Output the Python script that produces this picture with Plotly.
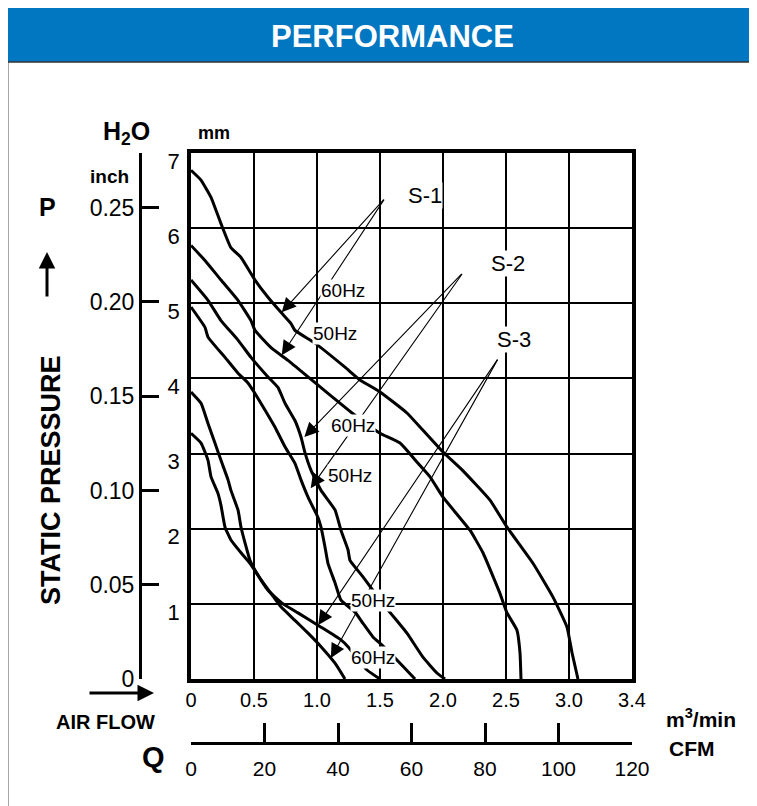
import plotly.graph_objects as go

# curve data: air flow (m3/min) and static pressure (mm H2O)
s1_60_q = [0.0, 0.079, 0.159, 0.238, 0.317, 0.397, 0.508, 0.611, 0.714, 0.794, 0.825, 0.984, 1.222, 1.341, 1.5,
           1.714, 1.841, 2.0, 2.159, 2.373, 2.508, 2.714, 2.873, 2.984, 3.024, 3.071]
s1_60_p = [6.77, 6.64, 6.41, 6.06, 5.74, 5.61, 5.31, 5.08, 4.88, 4.73, 4.64, 4.47, 4.15, 3.98, 3.82,
           3.54, 3.31, 3.02, 2.77, 2.38, 2.02, 1.54, 1.09, 0.69, 0.35, 0.0]

s1_50_q = [0.0, 0.111, 0.238, 0.373, 0.476, 0.508, 0.635, 0.77, 0.929, 1.087, 1.278, 1.5, 1.659, 1.802,
           1.897, 2.0, 2.214, 2.317, 2.452, 2.508, 2.587, 2.611, 2.619]
s1_50_p = [5.77, 5.57, 5.31, 5.04, 4.77, 4.64, 4.41, 4.24, 4.02, 3.80, 3.54, 3.27, 3.14, 2.87,
           2.69, 2.42, 1.98, 1.68, 1.14, 0.88, 0.65, 0.35, 0.0]

s2_60_q = [0.0, 0.135, 0.238, 0.373, 0.476, 0.611, 0.69, 0.746, 0.825, 0.873, 0.905, 0.952, 1.032, 1.143,
           1.19, 1.246, 1.262, 1.365, 1.444, 1.563, 1.714, 1.841, 1.952, 2.016]
s2_60_p = [5.31, 5.04, 4.77, 4.51, 4.28, 4.02, 3.88, 3.67, 3.44, 3.22, 3.01, 2.78, 2.51, 2.25,
           1.98, 1.72, 1.58, 1.36, 1.18, 0.92, 0.61, 0.29, 0.08, 0.0]

s2_50_q = [0.0, 0.111, 0.135, 0.27, 0.373, 0.452, 0.508, 0.587, 0.667, 0.746, 0.825, 0.873, 0.929, 0.952,
           1.008, 1.032, 1.063, 1.087, 1.143, 1.19, 1.302, 1.365, 1.444, 1.516, 1.659, 1.778]
s2_50_p = [4.95, 4.68, 4.55, 4.28, 4.07, 3.94, 3.80, 3.58, 3.35, 3.09, 2.87, 2.65, 2.42, 2.34,
           2.15, 2.02, 1.76, 1.54, 1.28, 1.05, 0.89, 0.74, 0.56, 0.45, 0.21, 0.0]

s3_60_q = [0.0, 0.08, 0.135, 0.19, 0.238, 0.294, 0.317, 0.373, 0.397, 0.429, 0.468, 0.532, 0.611, 0.722,
           0.849, 1.032, 1.19, 1.246, 1.397, 1.5]
s3_60_p = [3.82, 3.67, 3.40, 3.14, 2.91, 2.65, 2.51, 2.25, 2.02, 1.81, 1.58, 1.38, 1.18, 1.01,
           0.88, 0.69, 0.52, 0.43, 0.12, 0.0]

s3_50_q = [0.0, 0.08, 0.135, 0.159, 0.214, 0.238, 0.27, 0.317, 0.397, 0.468, 0.556, 0.635, 0.714, 0.825,
           0.929, 1.032, 1.143, 1.222]
s3_50_p = [3.27, 3.14, 2.91, 2.69, 2.47, 2.31, 2.02, 1.85, 1.68, 1.54, 1.32, 1.14, 0.96, 0.78,
           0.61, 0.43, 0.21, 0.0]

# tick labels
q_ticks = [0, 0.5, 1.0, 1.5, 2.0, 2.5, 3.0, 3.5]
q_labels = ["0", "0.5", "1.0", "1.5", "2.0", "2.5", "3.0", "3.4"]
mm_ticks = [1, 2, 3, 4, 5, 6, 7]
inch_ticks = [0, 0.05, 0.10, 0.15, 0.20, 0.25]
inch_labels = ["0", "0.05", "0.10", "0.15", "0.20", "0.25"]
cfm_ticks = [0, 20, 40, 60, 80, 100, 120]

# the page body has an 8px margin, so the figure is sized to fit the window
OFF = 8
W, H = 757 - OFF, 806 - OFF
FONT = "Liberation Sans, Arial, Helvetica, sans-serif"


def px(x):
    return (x - OFF) / W


def py(y):
    return 1 - (y - OFF) / H


fig = go.Figure()

for name, q, p in [("S-1 60Hz", s1_60_q, s1_60_p), ("S-1 50Hz", s1_50_q, s1_50_p),
                   ("S-2 60Hz", s2_60_q, s2_60_p), ("S-2 50Hz", s2_50_q, s2_50_p),
                   ("S-3 60Hz", s3_60_q, s3_60_p), ("S-3 50Hz", s3_50_q, s3_50_p)]:
    fig.add_trace(go.Scatter(x=q, y=p, name=name, mode="lines",
                             line=dict(color="black", width=3, shape="spline", smoothing=0.4),
                             hoverinfo="skip"))

# dummy traces so the extra axes get drawn
fig.add_trace(go.Scatter(x=[], y=[], xaxis="x", yaxis="y2", showlegend=False))
fig.add_trace(go.Scatter(x=[], y=[], xaxis="x2", yaxis="y", showlegend=False))

fig.update_layout(
    width=W, height=H,
    margin=dict(l=0, r=0, t=0, b=0, autoexpand=False),
    paper_bgcolor="white", plot_bgcolor="white",
    showlegend=False,
    font=dict(family=FONT, color="black"),
    xaxis=dict(domain=[px(191), px(632)], range=[0, 3.5], tickvals=q_ticks, ticktext=q_labels,
               showgrid=True, gridcolor="black", gridwidth=1.6, zeroline=False,
               showline=True, linecolor="black", linewidth=3.5, mirror=True, automargin=False,
               ticks="", tickfont=dict(size=20), ticklabelstandoff=0, fixedrange=True),
    yaxis=dict(domain=[py(679), py(153)], range=[0, 7], tickvals=mm_ticks,
               showgrid=True, gridcolor="black", gridwidth=1.6, zeroline=False,
               showline=True, linecolor="black", linewidth=3.5, mirror=True, automargin=False,
               ticks="", tickfont=dict(size=22), ticklabelstandoff=3, ticklabelshift=8,
               fixedrange=True),
    yaxis2=dict(overlaying="y", anchor="free", position=px(140), side="left",
                range=[0, 0.279], tickvals=inch_ticks, ticktext=inch_labels, automargin=False,
                showgrid=False, zeroline=False, showline=True, linecolor="black", linewidth=3,
                ticks="inside", ticklen=17, tickwidth=3, tickcolor="black",
                tickfont=dict(size=23), fixedrange=True),
    xaxis2=dict(overlaying="x", anchor="free", position=py(743), side="bottom",
                range=[0, 120], tickvals=cfm_ticks, automargin=False,
                showgrid=False, zeroline=False, showline=True, linecolor="black", linewidth=3,
                ticks="inside", ticklen=19, tickwidth=3, tickcolor="black",
                tickfont=dict(size=21), ticklabelstandoff=6, fixedrange=True),
)

# banner and side borders
fig.add_shape(type="line", xref="paper", yref="paper", x0=px(8), x1=px(8), y0=py(806), y1=py(62),
              line=dict(color="#8a8a8a", width=1.5), layer="below")
fig.add_shape(type="line", xref="paper", yref="paper", x0=px(752), x1=px(752), y0=py(806), y1=py(62),
              line=dict(color="#8a8a8a", width=1.5), layer="below")
fig.add_shape(type="rect", xref="paper", yref="paper", x0=px(8), x1=px(752), y0=py(62), y1=py(5),
              line=dict(width=0), fillcolor="#0077C0", layer="below")
fig.add_shape(type="line", xref="paper", yref="paper", x0=px(8), x1=px(752), y0=py(62), y1=py(62),
              line=dict(color="#333333", width=1.5), layer="below")

ann = []


def label(text, x, y, size, bold=True, **kw):
    t = "<b>%s</b>" % text if bold else text
    kw.setdefault("xanchor", "center")
    ann.append(dict(text=t, x=px(x), y=py(y), xref="paper", yref="paper", showarrow=False,
                    yanchor="middle",
                    font=dict(size=size, family=FONT, color=kw.pop("color", "black")), **kw))


label("PERFORMANCE", 393, 36, 31, color="white")
label("H<sub>2</sub>O", 126, 133, 25)
label("mm", 214, 133, 18)
label("inch", 109, 177, 19)
label("P", 47, 207, 25)
label("STATIC PRESSURE", 51, 480, 27, textangle=-90)
label("AIR FLOW", 106, 722, 20)
label("Q", 153, 757, 29)
label("m<sup>3</sup>/min", 664, 718, 21, xanchor="left")
label("CFM", 667, 748, 21, xanchor="left")

# axis arrows
ann.append(dict(text="", x=px(47), y=py(252), xref="paper", yref="paper", showarrow=True,
                ax=0, ay=46, arrowhead=2, arrowsize=1.1, arrowwidth=3, arrowcolor="black"))
ann.append(dict(text="", x=px(154), y=py(693), xref="paper", yref="paper", showarrow=True,
                ax=-66, ay=0, arrowhead=2, arrowsize=1.1, arrowwidth=3, arrowcolor="black"))

# leader arrows from series labels to curves
leaders = [((1.54, 6.40), (0.72, 4.88)), ((1.54, 6.40), (0.72, 4.31)),
           ((2.16, 5.41), (0.90, 3.22)), ((2.16, 5.41), (0.95, 2.54)),
           ((2.44, 4.27), (1.01, 0.72)), ((2.44, 4.27), (1.11, 0.28))]
for (x0, y0), (x1, y1) in leaders:
    ann.append(dict(text="", x=x1, y=y1, ax=x0, ay=y0, xref="x", yref="y", axref="x", ayref="y",
                    showarrow=True, arrowhead=2, arrowsize=2.6, arrowwidth=1.1, arrowcolor="black"))

for text, x, y, size in [("S-1", 1.857, 6.44, 22), ("S-2", 2.516, 5.53, 22), ("S-3", 2.563, 4.52, 22),
                         ("60Hz", 1.206, 5.17, 19), ("50Hz", 1.143, 4.60, 19),
                         ("60Hz", 1.286, 3.38, 19), ("50Hz", 1.262, 2.71, 19),
                         ("50Hz", 1.444, 1.05, 19), ("60Hz", 1.444, 0.28, 19)]:
    ann.append(dict(text=text, x=x, y=y, xref="x", yref="y", showarrow=False,
                    xanchor="center", yanchor="middle",
                    bgcolor="white", borderpad=0, font=dict(size=size, family=FONT, color="black")))

fig.update_layout(annotations=ann)

fig.write_html("out.html", config={"displayModeBar": False})
